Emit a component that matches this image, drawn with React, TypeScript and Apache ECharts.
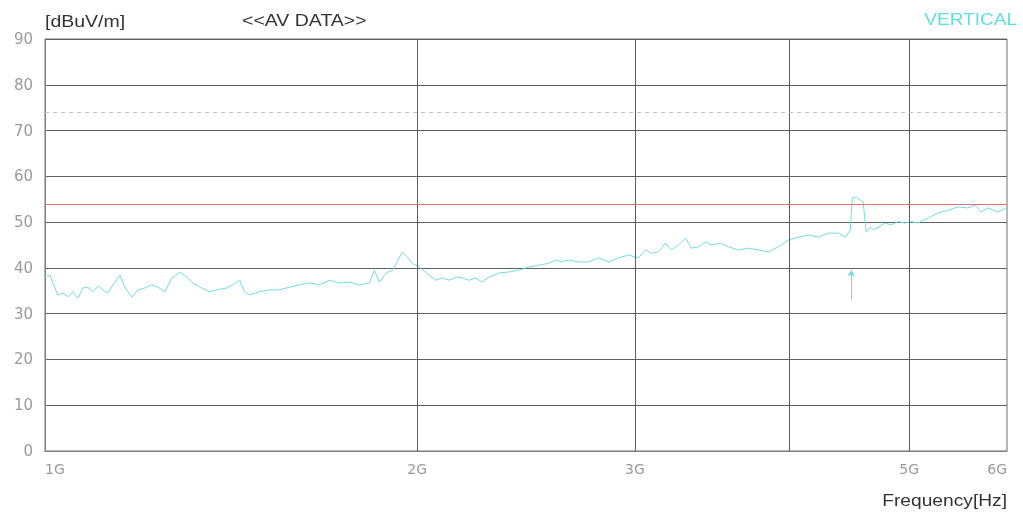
import React, { useEffect, useRef } from "react";
import * as echarts from "echarts";

// frequency in MHz
const freqs: number[] = [
  1000, 1009, 1024, 1034, 1044, 1053, 1063, 1073, 1083, 1093, 1104, 1114, 1124, 1135, 1150, 1160, 1176, 1189, 1204, 1220,
  1234, 1250, 1266, 1285, 1302, 1317, 1339, 1359, 1379, 1403, 1418, 1437, 1450, 1464, 1491, 1519, 1548, 1577, 1606, 1636,
  1667, 1698, 1730, 1763, 1796, 1830, 1847, 1864, 1888, 1910, 1927, 1945, 1963, 1982, 2007, 2045, 2072, 2095, 2122, 2150,
  2174, 2203, 2231, 2256, 2286, 2329, 2372, 2417, 2462, 2508, 2555, 2589, 2618, 2652, 2702, 2752, 2804, 2857, 2910, 2965,
  3020, 3060, 3094, 3135, 3176, 3212, 3254, 3297, 3334, 3378, 3422, 3461, 3519, 3572, 3639, 3707, 3777, 3848, 3920, 3994,
  4068, 4145, 4223, 4302, 4383, 4440, 4481, 4498, 4531, 4565, 4590, 4607, 4616, 4650, 4676, 4720, 4782, 4835, 4898, 4962,
  5018, 5083, 5179, 5276, 5376, 5477, 5580, 5652, 5716, 5790, 5899, 6000,
];
// level in dBuV/m
const levels: number[] = [
  38.1, 38.4, 34.1, 34.5, 33.7, 34.8, 33.4, 35.6, 35.8, 34.8, 36.0, 35.2, 34.5, 36.3, 38.4, 35.8, 33.6, 35.2, 35.6, 36.3,
  35.8, 34.8, 37.7, 39.1, 38.0, 36.7, 35.6, 34.8, 35.2, 35.6, 36.3, 37.3, 34.8, 34.1, 34.8, 35.2, 35.2, 35.8, 36.3, 36.7,
  36.3, 37.3, 36.7, 36.9, 36.3, 36.7, 39.5, 36.9, 38.9, 39.5, 41.3, 43.5, 42.4, 41.0, 40.2, 38.4, 37.3, 37.8, 37.3, 38.0,
  37.8, 37.3, 37.8, 36.9, 38.0, 38.9, 39.1, 39.5, 40.2, 40.6, 41.0, 41.7, 41.3, 41.7, 41.3, 41.3, 42.2, 41.3, 42.2, 42.8,
  42.2, 43.9, 43.2, 43.5, 45.4, 43.9, 45.0, 46.5, 44.3, 44.6, 45.7, 45.0, 45.4, 44.6, 43.9, 44.3, 43.9, 43.5, 44.6, 46.1,
  46.7, 47.2, 46.7, 47.6, 47.6, 46.7, 48.3, 55.3, 55.5, 54.8, 54.4, 49.8, 47.8, 48.9, 48.3, 48.9, 49.8, 49.4, 50.1, 49.8,
  50.1, 49.8, 50.9, 52.0, 52.6, 53.3, 53.1, 53.7, 52.2, 53.1, 52.2, 53.1,
];

const limitAV = 54;
const limitPK = 74;
const peakFreq = 4490;
const xGridFreqs = [2000, 3000, 4000, 5000];
const xLabelFreqs = [1000, 2000, 3000, 5000, 6000];

export default function App() {
  const ref = useRef<HTMLDivElement>(null);
  useEffect(() => {
    if (!ref.current) return;
    const chart = echarts.init(ref.current, undefined, { renderer: "svg" });
    const data = freqs.map((f, i) => [f, levels[i]]);
    const font = "Liberation Sans, Arial, sans-serif";
    const labelFont = "DejaVu Sans, sans-serif";
    chart.setOption({
      animation: false,
      grid: {
        left: 45,
        right: 16,
        top: 39,
        bottom: 64,
        show: true,
        borderColor: "#707070",
        borderWidth: 1,
      },
      xAxis: {
        type: "log",
        logBase: 10,
        min: 1000,
        max: 6000,
        axisLine: { show: true, lineStyle: { color: "#808080" } },
        axisTick: { show: false },
        splitLine: { show: false },
        axisLabel: {
          customValues: xLabelFreqs,
          formatter: (v: number) => Math.round(v / 1000) + "G",
          color: "#9a9a9a",
          fontFamily: labelFont,
          fontSize: 14,
          margin: 11,
          alignMinLabel: "left",
          alignMaxLabel: "right",
        },
      },
      yAxis: {
        type: "value",
        min: 0,
        max: 90,
        interval: 10,
        axisLine: { show: true, lineStyle: { color: "#808080" } },
        axisTick: { show: false },
        splitLine: { show: true, lineStyle: { color: "#606060", width: 1 } },
        axisLabel: { color: "#9a9a9a", fontFamily: labelFont, fontSize: 15, margin: 12 },
      },
      graphic: [
        { type: "text", x: 45, y: 22, scaleX: 1.22, style: { text: "[dBuV/m]", fill: "#333", font: `16px ${font}`, verticalAlign: "middle" } },
        { type: "text", x: 242, y: 21, scaleX: 1.22, style: { text: "<<AV DATA>>", fill: "#333", font: `16px ${font}`, verticalAlign: "middle" } },
        { type: "text", x: 1017, y: 20, scaleX: 1.19, style: { text: "VERTICAL", fill: "#5fe0e0", font: `16px ${font}`, align: "right", verticalAlign: "middle" } },
        { type: "text", x: 1007, y: 501, scaleX: 1.2, style: { text: "Frequency[Hz]", fill: "#333", font: `16px ${font}`, align: "right", verticalAlign: "middle" } },
      ],
      series: [
        {
          type: "line",
          data,
          showSymbol: false,
          lineStyle: { color: "#72dcdc", width: 1 },
          markLine: {
            silent: true,
            symbol: ["none", "none"],
            label: { show: false },
            data: [
              ...xGridFreqs.map((f) => ({ xAxis: f, lineStyle: { color: "#606060", width: 1, type: "solid" } })),
              { yAxis: limitAV, lineStyle: { color: "#e07070", width: 1, type: "solid" } },
              { yAxis: limitPK, lineStyle: { color: "#c0c0c0", width: 1, type: [4, 4] } },
              [
                { coord: [peakFreq, 33], symbol: "none" },
                { coord: [peakFreq, 39.5], symbol: "arrow", symbolSize: 6, lineStyle: { color: "#72dcdc", width: 1, type: "solid" } },
              ],
            ],
          },
        },
      ],
    });
    return () => chart.dispose();
  }, []);
  return <div ref={ref} style={{ position: "fixed", left: 0, top: 0, width: 1023, height: 515 }} />;
}
